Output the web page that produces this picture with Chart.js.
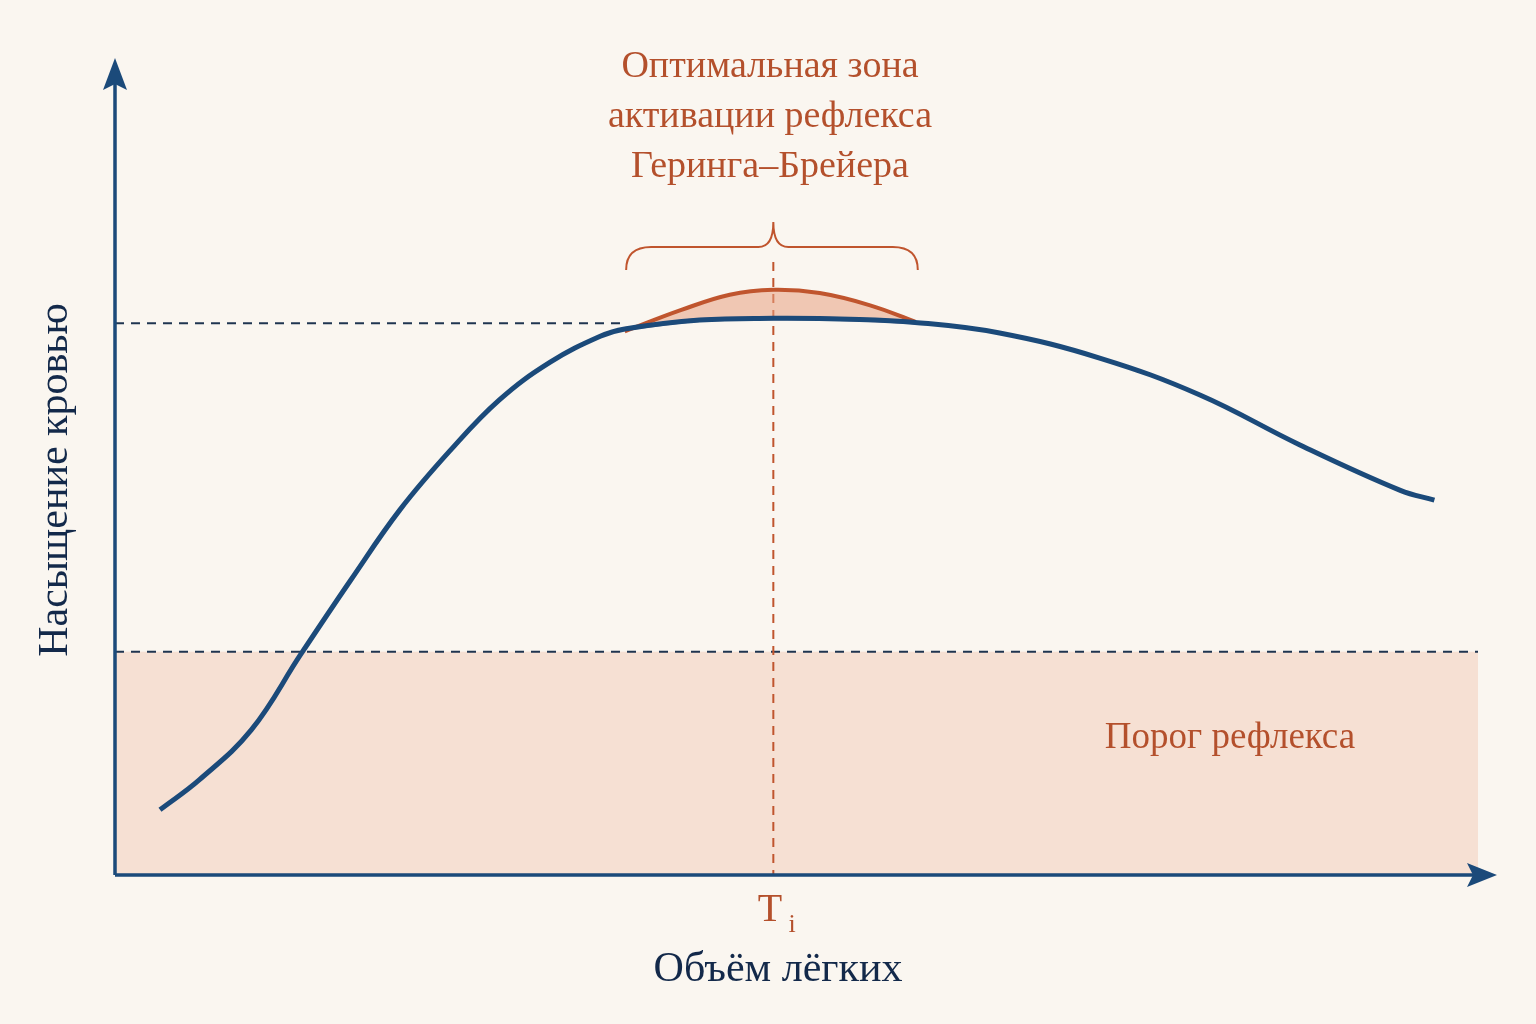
<!DOCTYPE html>
<html><head><meta charset="utf-8">
<script src="https://cdn.jsdelivr.net/npm/chart.js@4/dist/chart.umd.min.js"></script>
<style>html,body{margin:0;background:#faf6f0}#w{width:1536px;height:1024px}</style>
</head><body><div id="w"><canvas id="c"></canvas></div>
<script>
const curveX=[3.3,6.2,10.0,13.6,17.3,20.9,24.6,28.2,31.9,35.6,37.4,42.9,48.3,53.9,58.7,64.9,72.3,79.6,86.9,94.3,96.8];
const curveY=[8.0,11.7,17.8,27.0,36.2,44.8,52.1,58.3,62.9,66.1,67.0,68.1,68.3,68.2,67.8,66.5,63.4,58.9,52.8,47.2,46.0];
const bumpX=[37.4,41.5,45.1,48.3,51.7,55.4,58.7];
const bumpY=[66.7,69.3,71.2,71.8,71.4,69.9,67.9];
const baseX=[37.4,42.9,48.3,53.9,58.7];
const baseY=[67.0,68.1,68.3,68.2,67.8];
const optLevel=67.7, thrLevel=27.4, tiX=48.3, tiTop=75.2;
const titleLines=["Оптимальная зона","активации рефлекса","Геринга–Брейера"];
const thrLabel="Порог рефлекса", xLabel="Объём лёгких", yLabel="Насыщение кровью";
const navy="#1b4a7a", orange="#c0552e";
const pts=(xs,ys)=>xs.map((x,i)=>({x,y:ys[i]}));
const deco={id:'deco',
 beforeDatasetsDraw(ch){const {ctx,scales:{x,y}}=ch;ctx.save();
  ctx.fillStyle="rgba(242,205,188,0.55)";
  ctx.fillRect(x.getPixelForValue(0),y.getPixelForValue(thrLevel),x.getPixelForValue(100)-x.getPixelForValue(0),y.getPixelForValue(0)-y.getPixelForValue(thrLevel));
  ctx.setLineDash([9,7]);ctx.lineWidth=2;ctx.strokeStyle="#1f3550";
  ctx.beginPath();ctx.moveTo(x.getPixelForValue(0),y.getPixelForValue(optLevel));ctx.lineTo(x.getPixelForValue(37.4),y.getPixelForValue(optLevel));
  ctx.moveTo(x.getPixelForValue(0),y.getPixelForValue(thrLevel));ctx.lineTo(x.getPixelForValue(100),y.getPixelForValue(thrLevel));ctx.stroke();
  ctx.strokeStyle=orange;ctx.beginPath();ctx.moveTo(x.getPixelForValue(tiX),y.getPixelForValue(tiTop));ctx.lineTo(x.getPixelForValue(tiX),y.getPixelForValue(0));ctx.stroke();
  ctx.restore();},
 afterDatasetsDraw(ch){const {ctx,scales:{x,y}}=ch;ctx.save();
  const x0=x.getPixelForValue(0),y0=y.getPixelForValue(0);
  ctx.strokeStyle=navy;ctx.fillStyle=navy;ctx.lineWidth=3.5;
  ctx.beginPath();ctx.moveTo(x0,y0);ctx.lineTo(1480,y0);ctx.moveTo(x0,y0);ctx.lineTo(x0,80);ctx.stroke();
  ctx.beginPath();ctx.moveTo(1497,y0);ctx.lineTo(1467,y0-12);ctx.lineTo(1473,y0);ctx.lineTo(1467,y0+12);ctx.fill();
  ctx.beginPath();ctx.moveTo(x0,58);ctx.lineTo(x0-12,90);ctx.lineTo(x0,84);ctx.lineTo(x0+12,90);ctx.fill();
  // brace
  const bl=x.getPixelForValue(37.5),br=x.getPixelForValue(58.9),bm=x.getPixelForValue(tiX);
  ctx.strokeStyle=orange;ctx.lineWidth=2;ctx.beginPath();
  ctx.moveTo(bl,270);ctx.quadraticCurveTo(bl,247,bl+25,247);ctx.lineTo(bm-15,247);ctx.quadraticCurveTo(bm,247,bm,222);
  ctx.quadraticCurveTo(bm,247,bm+15,247);ctx.lineTo(br-25,247);ctx.quadraticCurveTo(br,247,br,270);ctx.stroke();
  ctx.font="38px 'Liberation Serif'";ctx.textAlign="center";ctx.textBaseline="middle";ctx.fillStyle="#b4502c";
  titleLines.forEach((t,i)=>ctx.fillText(t,770,67+i*50));
  ctx.font="37px 'Liberation Serif'";ctx.fillText(thrLabel,1230,738);
  ctx.font="40px 'Liberation Serif'";ctx.fillText("T",770,910);ctx.font="26px 'Liberation Serif'";ctx.fillText("i",792,925);
  ctx.fillStyle="#13294a";ctx.font="42px 'Liberation Serif'";ctx.fillText(xLabel,778,970);
  ctx.translate(56,480);ctx.rotate(-Math.PI/2);ctx.fillText(yLabel,0,0);
  ctx.restore();}};
new Chart(document.getElementById('c'),{type:'line',
 data:{datasets:[
  {data:pts(curveX,curveY),borderColor:navy,borderWidth:5,pointRadius:0,tension:0.4,fill:false},
  {data:pts(baseX,baseY),borderColor:"rgba(110,90,130,0.7)",borderWidth:4,pointRadius:0,tension:0.4,fill:false},
  {data:pts(bumpX,bumpY),borderColor:orange,borderWidth:4,pointRadius:0,tension:0.4,fill:{target:1},backgroundColor:"rgba(232,160,130,0.55)"}]},
 options:{responsive:true,maintainAspectRatio:false,animation:false,
  layout:{padding:{left:115,right:58,top:60,bottom:149}},
  plugins:{legend:{display:false},tooltip:{enabled:false}},
  scales:{x:{type:'linear',min:0,max:100,display:false},y:{min:0,max:100,display:false}}},
 plugins:[deco]});
</script></body></html>
